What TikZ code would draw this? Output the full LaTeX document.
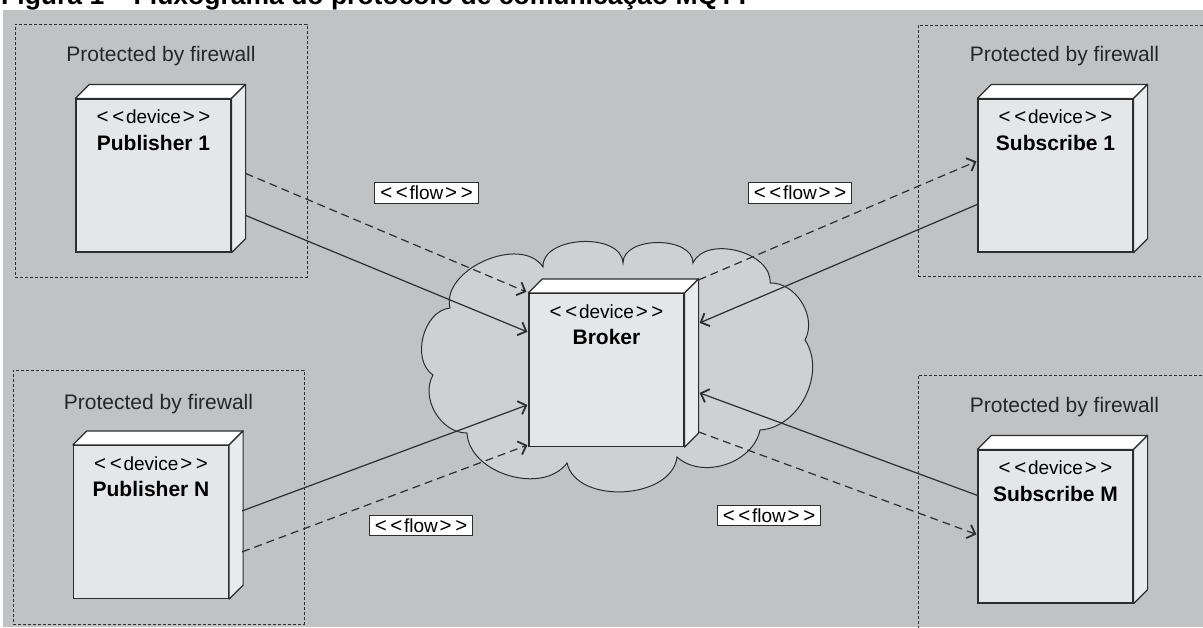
\documentclass[tikz,border=0pt]{standalone}
\usepackage{fontspec}
\setmainfont{Liberation Sans}
\usetikzlibrary{arrows.meta,positioning}

\definecolor{bggray}{RGB}{193,194,196}
\definecolor{cloudgray}{RGB}{207,208,210}
\definecolor{facegray}{RGB}{229,230,232}
\definecolor{sidegray}{RGB}{233,234,236}
\definecolor{inkgray}{RGB}{45,45,45}

\newcommand{\ltq}{\makebox[0.82em]{\fontsize{20.5}{0}\selectfont<}}
\newcommand{\gtq}{\makebox[0.82em]{\fontsize{20.5}{0}\selectfont>}}
\newcommand{\devtext}[1]{\parbox[c][153pt][t]{155pt}{\centering\fontsize{19}{26.5}\selectfont\vspace*{11pt}\ltq\ltq device\gtq\gtq\\{\fontsize{21}{26.5}\selectfont\bfseries #1}\par}}
% top and side face of a device box
\newcommand{\devfaces}[1]{%
  \filldraw[face, fill=white] (#1.north west) -- ++(14,-14) -- ([shift={(14,-14)}]#1.north east) -- (#1.north east) -- cycle;
  \filldraw[face, fill=sidegray] (#1.north east) -- ++(14,-14) -- ([shift={(14,-14)}]#1.south east) -- (#1.south east) -- cycle;}

\tikzset{
  firewall/.style={draw=inkgray, dash pattern=on 3pt off 2pt, line width=1pt, inner sep=0pt},
  fwlabel/.style={text=black!85, font=\fontsize{21}{24}\selectfont, inner sep=0pt},
  device/.style={draw=inkgray, fill=facegray, line width=1.2pt, inner sep=0pt},
  face/.style={draw=inkgray, line width=1.2pt, line join=round},
  flowlbl/.style={draw=inkgray, fill=white, line width=1pt, inner sep=3.5pt, font=\fontsize{19}{20}\selectfont},
  link/.style={draw=inkgray, line width=1.2pt, -{Straight Barb[length=7pt,width=14pt,line width=1.8pt]}},
  dashlink/.style={link, dash pattern=on 8pt off 5pt}
}

\begin{document}
\begin{tikzpicture}[x=1pt, y=-1pt]
    \useasboundingbox (0,0) rectangle (1203,627);
    \clip (0,0) rectangle (1203,627);

    \node[anchor=base west, inner sep=0pt, font=\fontsize{26.5}{30}\selectfont\bfseries] (title) at (1,4.5) {Figura 1 – Fluxograma do protocolo de comunicação MQTT};
    \fill[bggray] (3,10) rectangle (1203,627);

    % firewall zones
    \node[firewall, minimum width=292, minimum height=253] (fw1) at (161,150.5) {};
    \node[firewall, minimum width=291, minimum height=254] (fwN) at (158.5,497) {};
    \node[firewall, minimum width=297, minimum height=251] (fwS1) at (1066.5,150.5) {};
    \node[firewall, minimum width=297, minimum height=265] (fwSM) at (1066.5,507.5) {};
    \node[fwlabel, below=23pt of fw1.north] (fw1lbl) {Protected by firewall};
    \node[fwlabel, below=25pt of fwN.north] (fwNlbl) {Protected by firewall};
    \node[fwlabel, below=22pt of fwS1.north, xshift=-2pt] (fwS1lbl) {Protected by firewall};
    \node[fwlabel, below=23pt of fwSM.north, xshift=-2pt] (fwSMlbl) {Protected by firewall};

    % cloud round the broker
    \filldraw[fill=cloudgray, draw=inkgray, line width=1pt] (433,375) to[bend left=70] (450,308) to[bend left=80] (543,267)
      to[bend left=90] (623,263) to[bend left=90] (693,263) to[bend left=80] (770,283) to[bend left=60] (805,340)
      to[bend left=60] (760,430) to[bend left=60] (677,457) to[bend left=80] (567,463) to[bend left=70] (467,433)
      to[bend left=60] (433,375) -- cycle;

    % devices
    \node[device] (pub1) at (153.5,175.5) {\devtext{Publisher 1}};
    \node[device] (pubN) at (151,522) {\devtext{Publisher N}};
    \node[device] (sub1) at (1055.5,175.5) {\devtext{Subscribe 1}};
    \node[device] (subM) at (1055.5,526.5) {\devtext{Subscribe M}};
    \node[device] (broker) at (606.5,370) {\devtext{Broker}};
    \devfaces{pub1}
    \devfaces{pubN}
    \devfaces{sub1}
    \devfaces{subM}
    \devfaces{broker}

    % flows
    \draw[dashlink] ([shift={(14,75)}]pub1.north east) -- ([shift={(-2,-1)}]broker.north west);
    \draw[link] ([shift={(14,117)}]pub1.north east) -- ([shift={(-1,39)}]broker.north west);
    \draw[link] ([shift={(13,66)}]pubN.north east) -- ([shift={(-1,112)}]broker.north west);
    \draw[dashlink] ([shift={(13,107)}]pubN.north east) -- ([shift={(-1,-2)}]broker.south west);
    \draw[dashlink] ([shift={(14,-13)}]broker.north east) -- ([shift={(-1,63)}]sub1.north west);
    \draw[link] ([shift={(0,106)}]sub1.north west) -- ([shift={(15,30)}]broker.north east);
    \draw[link] ([shift={(0,46)}]subM.north west) -- ([shift={(15,100)}]broker.north east);
    \draw[dashlink] ([shift={(14,139)}]broker.north east) -- ([shift={(-1,85)}]subM.north west);

    \node[flowlbl] (flowP1) at (426.5,193) {\ltq\ltq flow\gtq\gtq};
    \node[flowlbl] (flowS1) at (800,193) {\ltq\ltq flow\gtq\gtq};
    \node[flowlbl] (flowPN) at (421,525.5) {\ltq\ltq flow\gtq\gtq};
    \node[flowlbl] (flowSM) at (769,515.5) {\ltq\ltq flow\gtq\gtq};
\end{tikzpicture}
\end{document}
